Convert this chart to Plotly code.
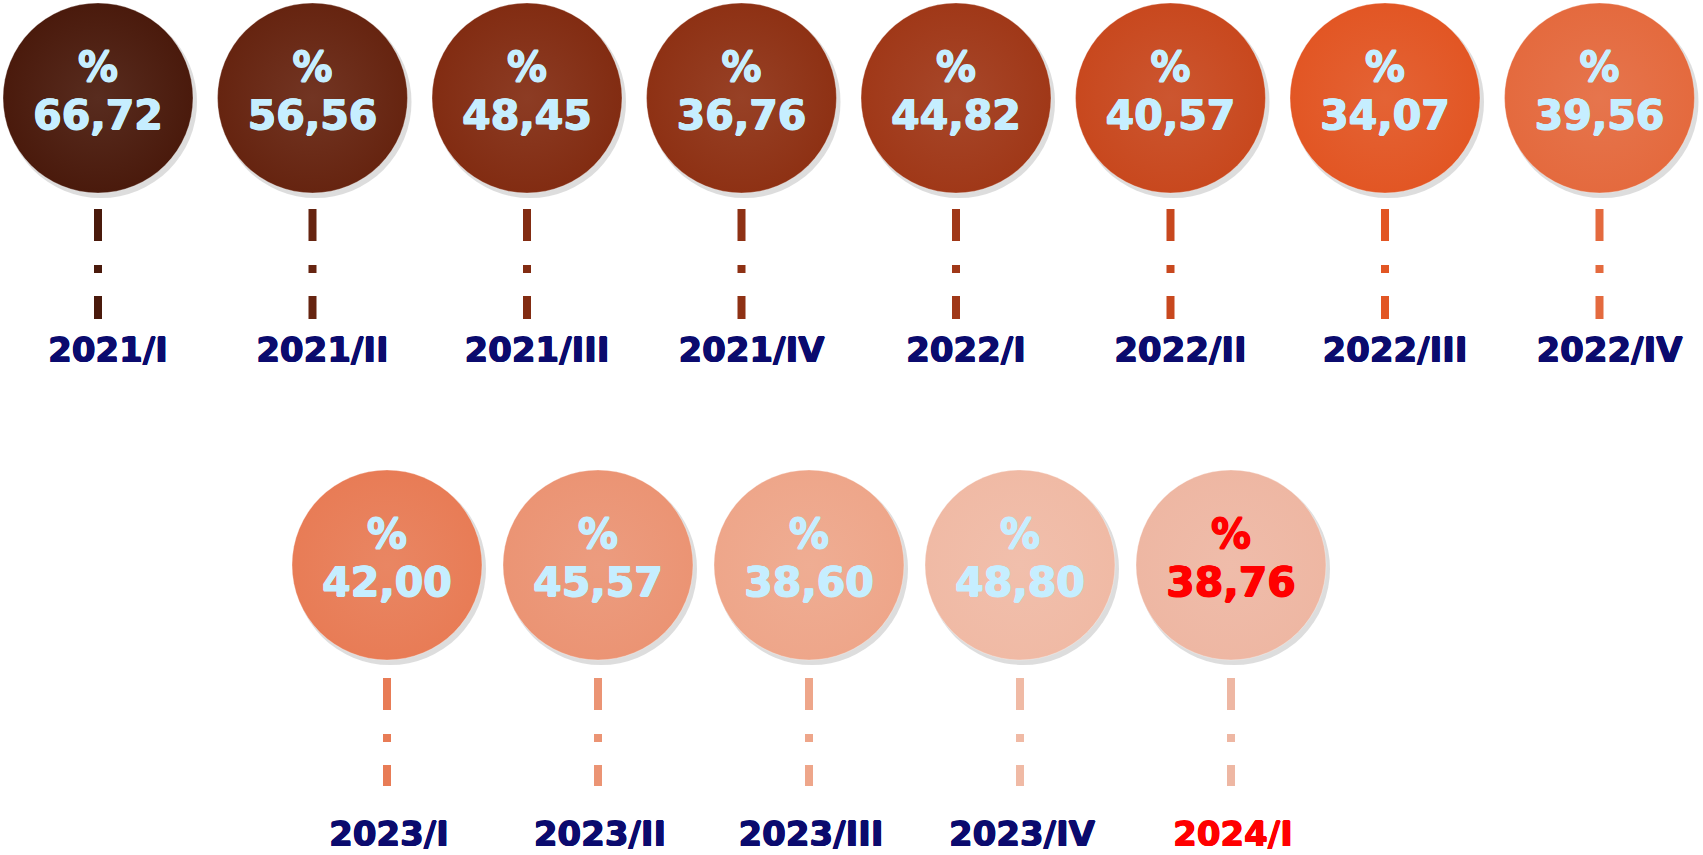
import plotly.graph_objects as go

# quarters and rate values (%)
periods = ["2021/I", "2021/II", "2021/III", "2021/IV", "2022/I", "2022/II", "2022/III", "2022/IV",
           "2023/I", "2023/II", "2023/III", "2023/IV", "2024/I"]
values = ["66,72", "56,56", "48,45", "36,76", "44,82", "40,57", "34,07", "39,56",
          "42,00", "45,57", "38,60", "48,80", "38,76"]
bubble_colors = ["rgb(74,26,12)", "rgb(102,36,16)", "rgb(130,44,18)", "rgb(142,49,20)",
                 "rgb(160,56,24)", "rgb(200,72,30)", "rgb(226,86,36)", "rgb(228,106,62)",
                 "rgb(232,124,86)", "rgb(235,148,116)", "rgb(238,166,138)", "rgb(240,186,165)",
                 "rgb(238,183,163)"]
highlight = "2024/I"

# grid layout (pixels, y grows downward)
top_n = 8
row_y = [98, 565]
row_x0 = [98, 387]
row_step = [214.5, 211]
label_y = [353, 837]
label_dx = [10, 2]

xs, ys, rows = [], [], []
for i, p in enumerate(periods):
    r = 0 if i < top_n else 1
    k = i if r == 0 else i - top_n
    xs.append(row_x0[r] + row_step[r] * k)
    ys.append(row_y[r])
    rows.append(r)


def lighten(c, f):
    r, g, b = [int(v) for v in c[4:-1].split(",")]
    return "rgb(%d,%d,%d)" % (r + (255 - r) * f, g + (255 - g) * f, b + (255 - b) * f)


def heavy(color, w=0.7):
    # fake a heavier weight with a thin text-shadow outline
    return ", ".join("%spx %spx 0 %s" % (dx, dy, color)
                     for dx, dy in [(w, 0), (-w, 0), (0, w), (0, -w)])


fig = go.Figure()

# stems (dash-dot connectors)
for x, y, r, c in zip(xs, ys, rows, bubble_colors):
    y0 = y + (111 if r == 0 else 113)
    fig.add_trace(go.Scatter(x=[x, x], y=[y0, y + 221], mode="lines",
                             line=dict(color=c, width=8, dash="32px,24px,8px,23px"),
                             hoverinfo="skip", showlegend=False))

# soft shadow
fig.add_trace(go.Scatter(x=[x + 3 for x in xs], y=[y + 4 for y in ys], mode="markers",
                         marker=dict(size=192, color="rgba(120,120,120,0.25)", line=dict(width=0)),
                         hoverinfo="skip", showlegend=False))

# bubbles
fig.add_trace(go.Scatter(x=xs, y=ys, mode="markers",
                         marker=dict(size=190, color=bubble_colors,
                                     gradient=dict(type="radial", color=[lighten(c, 0.08) for c in bubble_colors]),
                                     line=dict(width=0.5, color="rgba(255,255,255,0.6)")),
                         hoverinfo="skip", showlegend=False))

for is_hl in (False, True):
    idx = [i for i, p in enumerate(periods) if (p == highlight) == is_hl]
    tc = "#FF0000" if is_hl else "#C6EEFF"
    lc = "#FF0000" if is_hl else "#0B0B6E"
    fig.add_trace(go.Scatter(x=[xs[i] for i in idx], y=[ys[i] - 27 for i in idx], mode="text",
                             text=["%"] * len(idx),
                             textfont=dict(family="DejaVu Sans", size=40, weight="bold", color=tc,
                                           shadow=heavy(tc, 0.6)),
                             hoverinfo="skip", showlegend=False))
    fig.add_trace(go.Scatter(x=[xs[i] for i in idx], y=[ys[i] + 21 for i in idx], mode="text",
                             text=[values[i] for i in idx],
                             textfont=dict(family="DejaVu Sans", size=41, weight="bold", color=tc,
                                           shadow=heavy(tc, 0.7)),
                             hoverinfo="skip", showlegend=False))
    fig.add_trace(go.Scatter(x=[xs[i] + label_dx[rows[i]] for i in idx],
                             y=[label_y[rows[i]] for i in idx], mode="text",
                             text=[periods[i] for i in idx],
                             textfont=dict(family="DejaVu Sans", size=34, weight="bold", color=lc,
                                           shadow=heavy(lc, 0.6)),
                             hoverinfo="skip", showlegend=False))

fig.update_layout(width=1703, height=855, margin=dict(l=0, r=0, t=0, b=0),
                  plot_bgcolor="white", paper_bgcolor="white",
                  xaxis=dict(range=[0, 1703], visible=False, fixedrange=True),
                  yaxis=dict(range=[855, 0], visible=False, fixedrange=True))

fig.write_html("out.html", config={"displayModeBar": False},
               post_script="document.body.style.margin='0';document.body.style.overflow='hidden';")
